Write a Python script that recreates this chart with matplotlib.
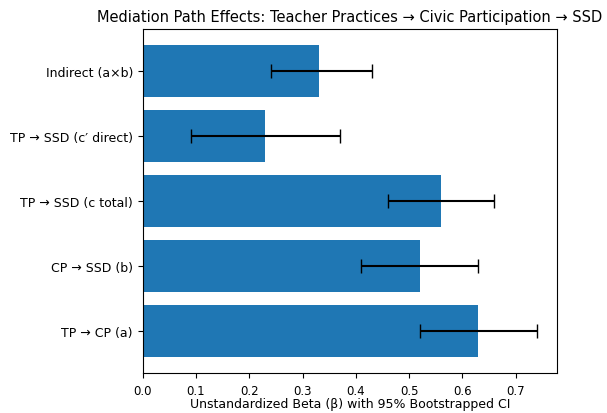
import matplotlib
matplotlib.use("Agg")
import matplotlib.pyplot as plt
import numpy as np

# Đường dẫn trung gian: giá trị beta và khoảng tin cậy 95% bootstrap
paths = ["TP → CP (a)", "CP → SSD (b)", "TP → SSD (c total)", "TP → SSD (c′ direct)", "Indirect (a×b)"]
betas = [0.63, 0.52, 0.56, 0.23, 0.33]
ci_low = [0.52, 0.41, 0.46, 0.09, 0.24]
ci_high = [0.74, 0.63, 0.66, 0.37, 0.43]

betas = np.array(betas)
err = np.array([betas - np.array(ci_low), np.array(ci_high) - betas])

fig = plt.figure(figsize=(6.07, 4.14), dpi=100)
ax = fig.add_axes([0.2351, 0.0966, 0.682, 0.831])
ax.barh(paths, betas, xerr=err, capsize=5, color="#1f77b4")
ax.set_xlabel("Unstandardized Beta (β) with 95% Bootstrapped CI", fontsize=9, labelpad=0)
ax.set_title("Mediation Path Effects: Teacher Practices → Civic Participation → SSD", fontsize=10.5)
ax.tick_params(axis="y", labelsize=9)
ax.tick_params(axis="x", labelsize=8.5, pad=4.5)

fig.savefig("out.png", dpi=100)
